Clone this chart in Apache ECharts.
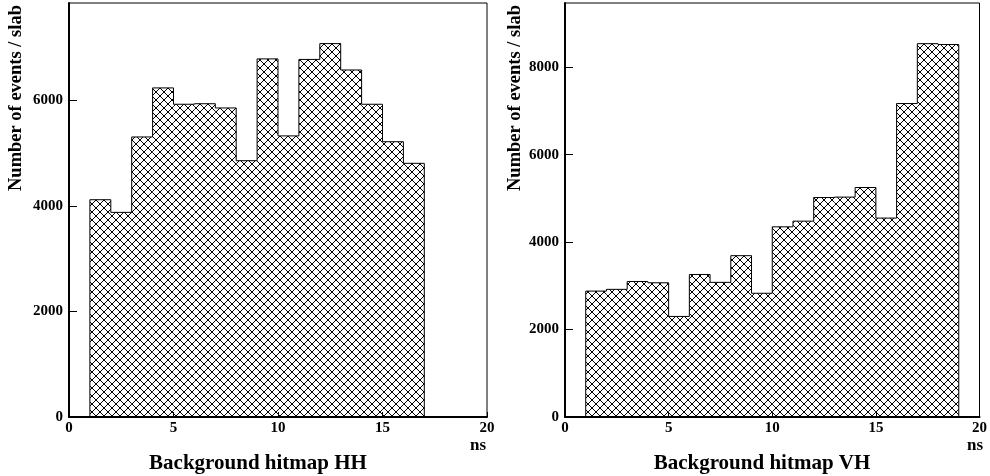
<!DOCTYPE html>
<html>
<head>
<meta charset="utf-8">
<script src="https://cdn.jsdelivr.net/npm/echarts@6/dist/echarts.min.js"></script>
<style>
  html, body { margin: 0; padding: 0; background: #fff; }
  #chart { width: 990px; height: 476px; }
</style>
</head>
<body>
<div id="chart"></div>
<script>
// bin edges (ns) and counts per slab
const hhFirstEdge = 1
const hhCounts = [4120, 3880, 5310, 6240, 5930, 5940, 5860, 4860, 6790, 5330, 6780, 7080, 6580, 5930, 5220, 4810]
const vhFirstEdge = 1
const vhCounts = [2880, 2920, 3100, 3070, 2300, 3260, 3080, 3690, 2830, 4350, 4480, 5020, 5030, 5250, 4550, 7170, 8540, 8520]
const panelTitles = ['Background hitmap HH', 'Background hitmap VH']
const yName = 'Number of events / slab'
const xUnit = 'ns'

const FONT = '"Liberation Serif", "DejaVu Serif", serif'

// cross hatch tile
const tile = document.createElement('canvas')
tile.width = 8
tile.height = 8
const ctx = tile.getContext('2d')
ctx.strokeStyle = '#000'
ctx.lineWidth = 1
ctx.beginPath()
ctx.moveTo(-1, -1); ctx.lineTo(9, 9)
ctx.moveTo(9, -1); ctx.lineTo(-1, 9)
ctx.stroke()
const hatch = { image: tile, repeat: 'repeat' }

function toBins (first, counts) {
  return counts.map(function (v, i) {
    return [first + i, first + i + 1, v, i === 0 ? 0 : counts[i - 1], i === counts.length - 1 ? 1 : 0]
  })
}

function renderItem (params, api) {
  const x0 = api.value(0)
  const x1 = api.value(1)
  const v = api.value(2)
  const prev = api.value(3)
  const last = api.value(4)
  const pTop = api.coord([x0, v])
  const pBot = api.coord([x1, 0])
  const pPrev = api.coord([x0, prev])
  const pts = [pPrev, pTop, [pBot[0], pTop[1]]]
  if (last) pts.push(pBot)
  return {
    type: 'group',
    children: [
      {
        type: 'rect',
        shape: { x: pTop[0], y: pTop[1], width: pBot[0] - pTop[0], height: pBot[1] - pTop[1] },
        style: { fill: hatch }
      },
      {
        type: 'polyline',
        shape: { points: pts },
        style: { stroke: '#000', lineWidth: 1, fill: null }
      }
    ]
  }
}

function xAxisOpt (idx) {
  return {
    type: 'value',
    gridIndex: idx,
    min: 0,
    max: 20,
    interval: 5,
    axisLine: { lineStyle: { color: '#000', width: 2 } },
    axisTick: { inside: true, length: 5, lineStyle: { color: '#000' } },
    axisLabel: { color: '#000', fontFamily: FONT, fontWeight: 'bold', fontSize: 15, margin: 4 },
    splitLine: { show: false }
  }
}

function yAxisOpt (idx, max) {
  return {
    type: 'value',
    gridIndex: idx,
    min: 0,
    max: max,
    interval: 2000,
    axisLine: { lineStyle: { color: '#000', width: 2 } },
    axisTick: { inside: true, length: 8, lineStyle: { color: '#000' } },
    axisLabel: {
      color: '#000',
      fontFamily: FONT,
      fontWeight: 'bold',
      fontSize: 15,
      margin: 6,
      showMaxLabel: false,
      formatter: function (v) { return String(v) }
    },
    splitLine: { show: false }
  }
}

function label (text, x, y, size, align, rot) {
  return {
    type: 'text',
    x: x,
    y: y,
    rotation: rot || 0,
    style: {
      text: text,
      fill: '#000',
      font: 'bold ' + size + 'px ' + FONT,
      textAlign: align,
      textVerticalAlign: 'middle'
    }
  }
}

const chart = echarts.init(document.getElementById('chart'))
chart.setOption({
  backgroundColor: '#fff',
  animation: false,
  grid: [
    { left: 69, top: 3, width: 418, height: 414, show: true, borderColor: '#000', borderWidth: 1 },
    { left: 565, top: 3, width: 418, height: 414, show: true, borderColor: '#000', borderWidth: 1 }
  ],
  xAxis: [xAxisOpt(0), xAxisOpt(1)],
  yAxis: [yAxisOpt(0, 7850), yAxisOpt(1, 9470)],
  series: [
    {
      type: 'custom',
      xAxisIndex: 0,
      yAxisIndex: 0,
      renderItem: renderItem,
      encode: { x: [0, 1], y: 2 },
      data: toBins(hhFirstEdge, hhCounts)
    },
    {
      type: 'custom',
      xAxisIndex: 1,
      yAxisIndex: 1,
      renderItem: renderItem,
      encode: { x: [0, 1], y: 2 },
      data: toBins(vhFirstEdge, vhCounts)
    }
  ],
  graphic: [
    label(yName, 16, 5, 18.5, 'right', Math.PI / 2),
    label(yName, 515, 5, 18.5, 'right', Math.PI / 2),
    label(xUnit, 478, 446, 17, 'center'),
    label(xUnit, 975, 446, 17, 'center'),
    label(panelTitles[0], 258, 464, 21, 'center'),
    label(panelTitles[1], 762, 464, 21, 'center')
  ]
})
</script>
</body>
</html>
